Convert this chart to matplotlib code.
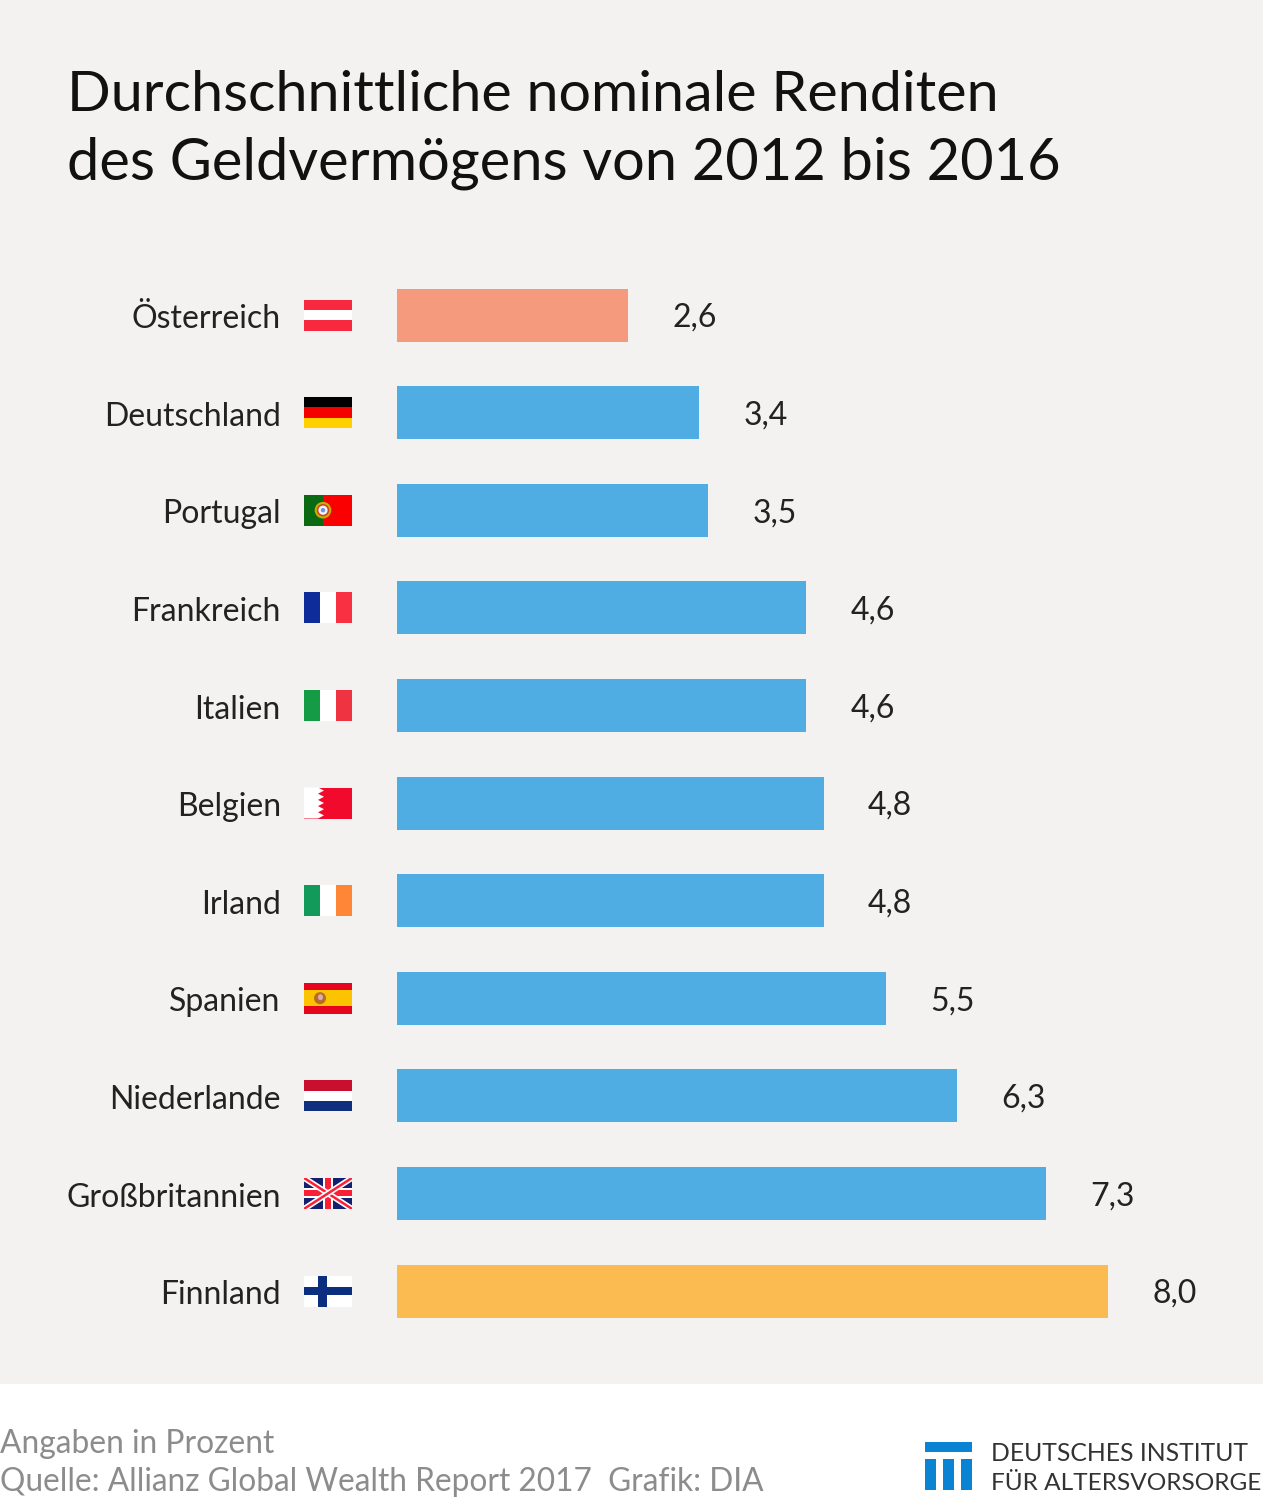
import matplotlib
matplotlib.use("Agg")
import matplotlib.pyplot as plt
from matplotlib.patches import Rectangle, Polygon, Circle, Ellipse
from matplotlib.transforms import ScaledTranslation

countries = ["Österreich", "Deutschland", "Portugal", "Frankreich", "Italien", "Belgien",
             "Irland", "Spanien", "Niederlande", "Großbritannien", "Finnland"]
values = [2.6, 3.4, 3.5, 4.6, 4.6, 4.8, 4.8, 5.5, 6.3, 7.3, 8.0]
value_labels = ["2,6", "3,4", "3,5", "4,6", "4,6", "4,8", "4,8", "5,5", "6,3", "7,3", "8,0"]
bar_colors = ["#f69a7d"] + ["#50ade3"] * 9 + ["#fbbb50"]
title_lines = ["Durchschnittliche nominale Renditen", "des Geldvermögens von 2012 bis 2016"]

BG = "#f3f2f0"
W, H = 1263, 1500
plt.rcParams["font.family"] = ["Lato", "DejaVu Sans"]
fig = plt.figure(figsize=(W / 100, H / 100), dpi=100, facecolor="white")

# Pixel-coordinate canvas for background, title, flags and footer
bgax = fig.add_axes([0, 0, 1, 1], zorder=0)
bgax.set_xlim(0, W); bgax.set_ylim(H, 0); bgax.axis("off")
bgax.add_patch(Rectangle((0, 0), W, 1384, fc=BG, ec="none"))

ax = fig.add_axes([397 / W, 1 - 1339.9 / H, 711 / W, 1073.6 / H], zorder=1)
ax.patch.set_alpha(0)
ypos = list(range(len(countries)))
ax.barh(ypos, values, height=0.543, color=bar_colors)
ax.set_xlim(0, 8); ax.set_ylim(10.5, -0.5)
ax.set_xticks([])
ax.set_yticks(ypos, countries, fontsize=23, color="#222222")
ax.tick_params(axis="y", length=0, pad=84)
shift = ScaledTranslation(0.5 / 100, -1 / 100, fig.dpi_scale_trans)
for t in ax.get_yticklabels():
    t.set_transform(t.get_transform() + shift)
for s in ax.spines.values():
    s.set_visible(False)
for y, v, lab in zip(ypos, values, value_labels):
    ax.annotate(lab, (v, y), xytext=(32, -2), textcoords="offset points", va="center",
                ha="left", fontsize=23, color="#222222")

top = fig.add_axes([0, 0, 1, 1], zorder=2)
top.set_xlim(0, W); top.set_ylim(H, 0); top.axis("off"); top.patch.set_alpha(0)

top.text(67, 111, title_lines[0], fontsize=41.4, color="#111111", va="baseline")
top.text(67, 179, title_lines[1], fontsize=41.6, color="#111111", va="baseline")

# Flags
FX, FW, FH = 304, 48, 31
def rect(x, y, w, h, c, **k):
    top.add_patch(Rectangle((x, y), w, h, fc=c, ec="none", **k))
def hstripes(cy, cols):
    y0 = cy - FH / 2
    for i, c in enumerate(cols):
        rect(FX, y0 + i * FH / 3, FW, FH / 3, c)
def vstripes(cy, cols):
    y0 = cy - FH / 2
    for i, c in enumerate(cols):
        rect(FX + i * FW / 3, y0, FW / 3, FH, c)

rows = [315 + i * 97.6 for i in range(11)]
hstripes(rows[0], ["#f8283e", "#ffffff", "#f8283e"])
hstripes(rows[1], ["#000000", "#f40000", "#ffcf00"])
# Portugal
cy = rows[2]
rect(FX, cy - FH / 2, FW, FH, "#fb0000")
rect(FX, cy - FH / 2, 19, FH, "#0a6a14")
top.add_patch(Circle((FX + 19, cy), 8.3, fc="#c8b000", ec="none"))
top.add_patch(Circle((FX + 19, cy), 6.2, fc="#d04030", ec="none"))
top.add_patch(Circle((FX + 19, cy), 4.6, fc="#f4f4f4", ec="none"))
top.add_patch(Circle((FX + 19, cy), 2.2, fc="#6a98d8", ec="none"))
vstripes(rows[3], ["#0f2d9a", "#ffffff", "#f92f42"])
vstripes(rows[4], ["#159a45", "#ffffff", "#ef3340"])
# "Belgien" flag as drawn in the original
cy = rows[5]
rect(FX, cy - FH / 2, FW, FH, "#f20a2c")
pts = [(FX, cy - FH / 2)]
for i in range(5):
    y = cy - FH / 2 + i * FH / 5
    pts += [(FX + 14, y), (FX + 20, y + FH / 10)]
pts += [(FX + 14, cy + FH / 2), (FX, cy + FH / 2)]
top.add_patch(Polygon(pts, closed=True, fc="white", ec="none"))
vstripes(rows[6], ["#129a5b", "#ffffff", "#ff8636"])
# Spain
cy = rows[7]
rect(FX, cy - FH / 2, FW, FH, "#e5061e")
rect(FX, cy - FH / 4, FW, FH / 2, "#fcc400")
top.add_patch(Ellipse((FX + 16, cy), 12, 12, fc="#b86a2a", ec="none"))
top.add_patch(Ellipse((FX + 16.5, cy - 1), 5, 6, fc="#d8b0a8", ec="none"))
hstripes(rows[8], ["#c8102e", "#ffffff", "#10307f"])
# United Kingdom
cy = rows[9]
x0, y0, x1, y1 = FX, cy - FH / 2, FX + FW, cy + FH / 2
clip = Rectangle((x0, y0), FW, FH, transform=top.transData)
rect(x0, y0, FW, FH, "#12206e")
for (a, b), (c, d) in [((x0, y0), (x1, y1)), ((x0, y1), (x1, y0))]:
    l, = top.plot([a, c], [b, d], color="white", lw=4.2, solid_capstyle="butt"); l.set_clip_path(clip)
    l, = top.plot([a, c], [b, d], color="#fb1f36", lw=1.8, solid_capstyle="butt"); l.set_clip_path(clip)
rect(x0 + 19, y0, 10, FH, "white"); rect(x0, cy - 5, FW, 10, "white")
rect(x0 + 21, y0, 6, FH, "#fb1f36"); rect(x0, cy - 3, FW, 6, "#fb1f36")
# Finland
cy = rows[10]
rect(FX, cy - FH / 2, FW, FH, "#ffffff")
rect(FX + 14, cy - FH / 2, 8.5, FH, "#0b2f7e")
rect(FX, cy - 4, FW, 8, "#0b2f7e")

# Footer
top.text(0, 1453, "Angaben in Prozent", fontsize=22.9, color="#8c8c8c", va="baseline")
top.text(0, 1491, "Quelle: Allianz Global Wealth Report 2017  Grafik: DIA", fontsize=22.8,
         color="#8c8c8c", va="baseline")
LOGO = "#0a84d2"
rect(925, 1442, 47, 10, LOGO)
for x in (925, 943, 961):
    rect(x, 1459, 11, 31, LOGO)
top.text(991, 1461, "DEUTSCHES INSTITUT", fontsize=17.8, color="#333333", va="baseline")
top.text(991, 1490, "FÜR ALTERSVORSORGE", fontsize=17.6, color="#333333", va="baseline")

fig.savefig("out.png", dpi=100, facecolor="white")
